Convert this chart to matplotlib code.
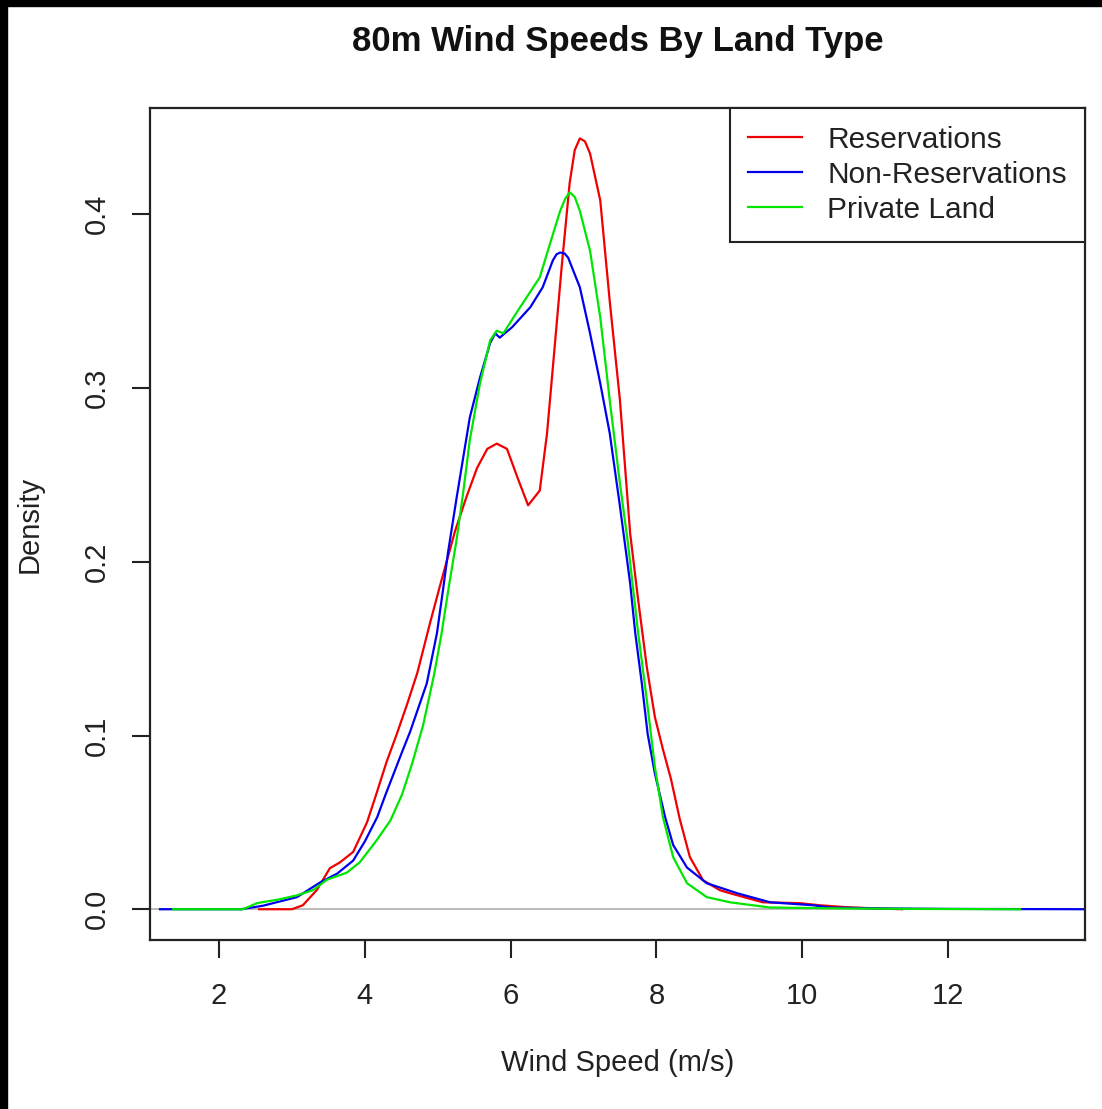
import numpy as np
import matplotlib
matplotlib.use('Agg')
import matplotlib.pyplot as plt
from matplotlib.patches import Rectangle

plt.rcParams['font.family'] = ['Liberation Sans', 'DejaVu Sans']

# density curves (wind speed m/s -> density)
res_x = [2.55, 3.00, 3.15, 3.34, 3.52, 3.66, 3.84, 4.03, 4.14, 4.30, 4.44, 4.58, 4.72,
         4.89, 5.03, 5.24, 5.40, 5.54, 5.68, 5.81, 5.95, 6.09, 6.24, 6.40, 6.50, 6.58,
         6.70, 6.81, 6.88, 6.95, 7.02, 7.09, 7.23, 7.36, 7.50, 7.64, 7.75, 7.87, 7.98,
         8.09, 8.20, 8.32, 8.46, 8.64, 8.87, 9.01, 9.46, 9.97, 10.24, 10.6, 11.0, 11.37]
res_y = [0.0, 0.0, 0.0023, 0.011, 0.0236, 0.027, 0.033, 0.050, 0.064, 0.085, 0.101,
         0.118, 0.136, 0.164, 0.186, 0.218, 0.238, 0.254, 0.265, 0.268, 0.265, 0.249,
         0.2325, 0.241, 0.274, 0.312, 0.3695, 0.418, 0.437, 0.4437, 0.442, 0.435, 0.408,
         0.350, 0.293, 0.2164, 0.178, 0.139, 0.1105, 0.092, 0.075, 0.052, 0.030, 0.0167,
         0.011, 0.0092, 0.004, 0.0035, 0.0023, 0.0012, 0.0005, 0.0]

non_x = [1.19, 2.30, 2.60, 3.07, 3.39, 3.62, 3.84, 4.00, 4.17, 4.28, 4.52, 4.62, 4.85,
         4.99, 5.07, 5.14, 5.26, 5.44, 5.58, 5.72, 5.79, 5.85, 5.92, 6.02, 6.27, 6.44,
         6.58, 6.63, 6.68, 6.74, 6.79, 6.95, 7.09, 7.23, 7.36, 7.50, 7.64, 7.71, 7.80,
         7.88, 7.98, 8.12, 8.23, 8.42, 8.69, 9.11, 9.56, 10.15, 10.38, 11.0, 12.0, 13.0,
         13.95]
non_y = [0.0, 0.0, 0.002, 0.007, 0.0155, 0.0205, 0.028, 0.039, 0.053, 0.0655, 0.0915,
         0.102, 0.130, 0.159, 0.183, 0.205, 0.237, 0.283, 0.306, 0.326, 0.3315, 0.329,
         0.3315, 0.335, 0.3465, 0.358, 0.3735, 0.377, 0.378, 0.3775, 0.375, 0.358,
         0.3315, 0.3027, 0.274, 0.232, 0.1876, 0.159, 0.130, 0.101, 0.078, 0.053, 0.037,
         0.024, 0.015, 0.0092, 0.004, 0.0023, 0.001, 0.0005, 0.0002, 0.0001, 0.0]

pri_x = [1.37, 2.33, 2.52, 2.84, 3.07, 3.29, 3.48, 3.75, 3.93, 4.15, 4.35, 4.51, 4.65,
         4.80, 4.95, 5.05, 5.15, 5.26, 5.35, 5.44, 5.58, 5.72, 5.81, 5.90, 6.13, 6.40,
         6.54, 6.68, 6.75, 6.81, 6.88, 6.95, 7.09, 7.23, 7.36, 7.50, 7.61, 7.75, 7.87,
         7.98, 8.09, 8.23, 8.42, 8.69, 9.01, 9.56, 10.5, 11.5, 12.99]
pri_y = [0.0, 0.0, 0.0035, 0.0058, 0.008, 0.011, 0.017, 0.021, 0.027, 0.039, 0.051,
         0.066, 0.084, 0.106, 0.135, 0.158, 0.185, 0.213, 0.240, 0.270, 0.3027,
         0.3275, 0.333, 0.3315, 0.3465, 0.3637, 0.383, 0.402, 0.409, 0.4127, 0.410,
         0.402, 0.379, 0.3407, 0.293, 0.245, 0.2106, 0.159, 0.120, 0.0817, 0.053, 0.030,
         0.015, 0.007, 0.004, 0.001, 0.0005, 0.0002, 0.0]

labels = ['Reservations', 'Non-Reservations', 'Private Land']
colors = ['#f00000', '#0000f0', '#00e600']
x_ticks = [2, 4, 6, 8, 10, 12]
y_ticks = [0.0, 0.1, 0.2, 0.3, 0.4]

fig = plt.figure(figsize=(11.02, 11.09), dpi=100)
ax = fig.add_axes([150 / 1102, 169 / 1109, 935 / 1102, 832 / 1109])

ax.axhline(0, color='#b0b0b0', linewidth=1.2, zorder=1)
for xs, ys, lab, c in zip([res_x, non_x, pri_x], [res_y, non_y, pri_y], labels, colors):
    ax.plot(xs, ys, color=c, linewidth=1.6, label=lab, zorder=2)

ax.set_xlim(1.053, 13.88)
ax.set_ylim(-0.0177, 0.4612)
ax.set_xticks(x_ticks)
ax.set_xticklabels([str(t) for t in x_ticks])
ax.set_yticks(y_ticks)
ax.set_yticklabels([f'{t:.1f}' for t in y_ticks], rotation=90, va='center')
ax.tick_params(axis='both', labelsize=21, length=13, width=1.5, color='#222222',
               labelcolor='#222222')
ax.tick_params(axis='x', pad=17)
ax.tick_params(axis='y', pad=15)
for s in ax.spines.values():
    s.set_linewidth(1.6)
    s.set_color('#222222')

ax.set_xlabel('Wind Speed (m/s)', fontsize=21, color='#222222')
ax.xaxis.set_label_coords(0.5, -0.148)
ax.xaxis.label.set_va('center')
ax.set_ylabel('Density', fontsize=21, color='#222222')
ax.yaxis.set_label_coords(-0.1283, 0.5)
ax.yaxis.label.set_va('center')
ax.yaxis.label.set_ha('center')

fig.text(617.5 / 1102, 1 - 41 / 1109, '80m Wind Speeds By Land Type', fontsize=25,
         fontweight='bold', ha='center', va='center', color='#111111')

leg = ax.legend(loc='upper right', borderaxespad=0, fancybox=False, framealpha=1,
                edgecolor='#222222', fontsize=21.5, handlelength=1.8, handletextpad=0.85,
                labelspacing=0.23, borderpad=0.6)
leg.get_frame().set_linewidth(1.5)
for t in leg.get_texts():
    t.set_color('#222222')

# black strips along top and left edge of the screenshot
fig.patches.append(Rectangle((0, 1 - 6 / 1109), 1, 6 / 1109, transform=fig.transFigure,
                             color='black', zorder=10))
fig.patches.append(Rectangle((0, 0), 7 / 1102, 1, transform=fig.transFigure,
                             color='black', zorder=10))

fig.savefig('out.png', dpi=100)
